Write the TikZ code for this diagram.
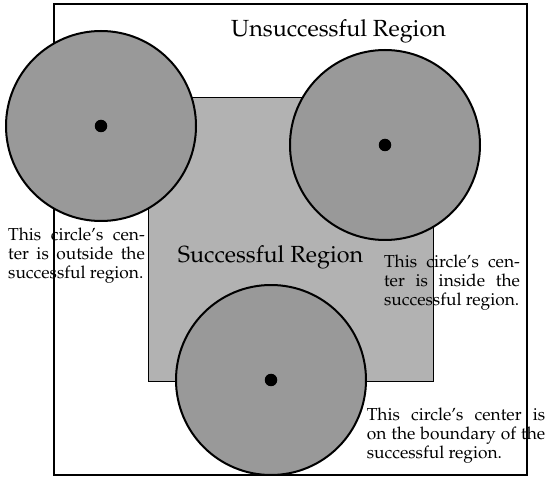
\documentclass[tikz,border=0pt]{standalone}
\usepackage[T1]{fontenc}
\usepackage{mathpazo}
\begin{document}
\begin{tikzpicture}[x=0.6pt, y=-0.6pt,
    region/.style={draw, line width=1.2pt, inner sep=0pt},
    goodregion/.style={draw, fill=black!30, line width=0.5pt, inner sep=0pt},
    reach/.style={circle, draw, fill=black!40, line width=1.2pt, minimum size=114pt, inner sep=0pt},
    centre/.style={circle, fill=black, minimum size=7.5pt, inner sep=0pt},
    title/.style={font=\fontsize{14}{16}\selectfont},
    note/.style={font=\fontsize{10.4}{11.4}\selectfont, align=justify, inner sep=0pt}]
    \useasboundingbox (0,0) rectangle (547,478);
    % the two regions
    \node[region, minimum width=283.8pt, minimum height=282.6pt] (outer) at (290.5,239.5) {};
    \node[goodregion, minimum width=171pt, minimum height=170.4pt] (inner) at (290.5,239) {};
    \node[title] (outerlabel) at (338.5,31) {Unsuccessful Region};
    \node[title] (innerlabel) at (270.5,257) {Successful Region};
    % circles with their centres
    \node[reach] (leftc) at (101,126) {};
    \node[reach] (rightc) at (385,145) {};
    \node[reach] (bottomc) at (271,380) {};
    \node[centre] (leftdot) at (leftc.center) {};
    \node[centre] (rightdot) at (rightc.center) {};
    \node[centre] (bottomdot) at (bottomc.center) {};
    % notes
    \node[note, text width=82pt] (leftnote) at (76.5,255.5) {This circle's cen-\linebreak ter is outside the\linebreak successful region.};
    \node[note, text width=81.5pt] (rightnote) at (452,282.5) {This circle's cen-\linebreak ter is inside the\linebreak successful region.};
    \node[note, text width=107pt] (bottomnote) at (456,435.5) {This circle's center is\linebreak on the boundary of the\linebreak successful region.};
\end{tikzpicture}
\end{document}
